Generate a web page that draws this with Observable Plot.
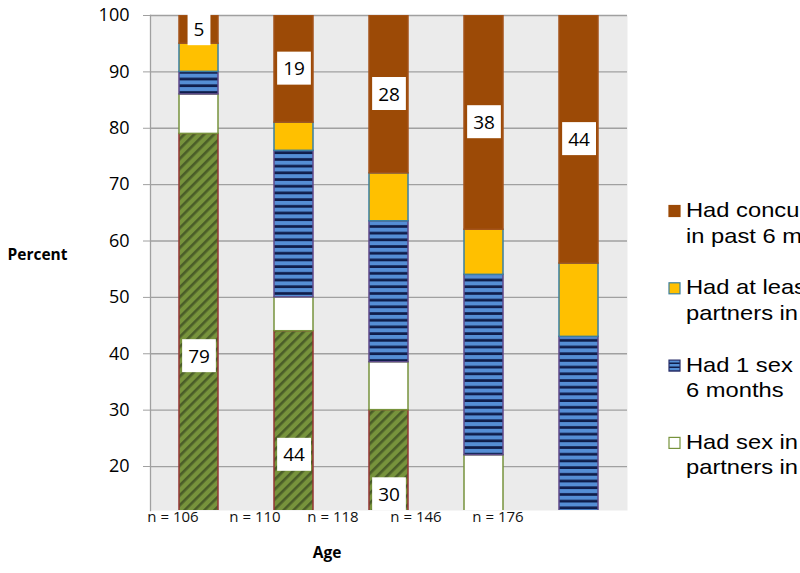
<!DOCTYPE html>
<html><head><meta charset="utf-8">
<script src="https://cdn.jsdelivr.net/npm/d3@7"></script>
<script src="https://cdn.jsdelivr.net/npm/@observablehq/plot@0.6"></script>
<style>
html,body{margin:0;padding:0;background:#fff;overflow:hidden;}
#chart{width:800px;height:573px;position:relative;overflow:hidden;}
</style></head><body><div id="chart"></div>
<script>
// ---- data ----
const groups = ["n = 106", "n = 110", "n = 118", "n = 146", "n = 176"];
const yTicks = [20, 30, 40, 50, 60, 70, 80, 90, 100];
const neverSex        = [79, 44, 30, 0, 0];      // green hatched
const noRecentPartner = [7, 6, 8.5, 22, 0];      // white
const oneSexPartner   = [4, 26, 25, 32, 43];     // blue striped
const atLeastTwo      = [5, 5, 8.5, 8, 13];      // yellow
const concurrent      = [5, 19, 28, 38, 44];     // brown
const legendLines = [
  ["Had concurrent partners", "in past 6 months"],
  ["Had at least 2 sex", "partners in past 6 months"],
  ["Had 1 sex partner in past", "6 months"],
  ["Had sex in past but no sex", "partners in past 6 months"]
];

// ---- styles ----
const series = [
  {key: "never", values: neverSex, fill: "url(#hatchGreen)", stroke: "#943634", label: true},
  {key: "none", values: noRecentPartner, fill: "#ffffff", stroke: "#77933C"},
  {key: "one", values: oneSexPartner, fill: "url(#stripeBlue)", stroke: "#5f4a8b"},
  {key: "two", values: atLeastTwo, fill: "#FFC000", stroke: "#3a7fa0"},
  {key: "conc", values: concurrent, fill: "#9C4A06", stroke: "#a4531a", label: true}
];

const rows = [];
groups.forEach((g, i) => {
  let cum = 0;
  series.forEach(s => {
    const v = s.values[i];
    rows.push({group: g, key: s.key, value: v, y1: cum, y2: cum + v});
    cum += v;
  });
});
const labelRows = rows.filter(r => r.value > 0 && series.find(s => s.key === r.key).label);

const nDx = [-26, -39, -56, -68, -81];

const plot = Plot.plot({
  width: 800,
  height: 573,
  marginLeft: 150,
  marginRight: 173,
  marginTop: 15,
  marginBottom: 63,
  style: {fontFamily: "'Open Sans', sans-serif", background: "#fff", overflow: "hidden"},
  x: {type: "band", domain: groups, paddingInner: 0.59, paddingOuter: 0.295, axis: null},
  y: {domain: [12.2, 100], axis: null},
  marks: [
    Plot.frame({fill: "#ebebeb", stroke: "none"}),
    Plot.gridY(yTicks, {stroke: "#a0a0a0", strokeOpacity: 1, strokeWidth: 1.3}),
    Plot.axisY({ticks: yTicks, tickSize: 7, tickPadding: 14, fontSize: 18, stroke: "#a0a0a0", fill: "#000", label: null}),
    Plot.frame({anchor: "left", stroke: "#a0a0a0", strokeWidth: 1.3}),
    ...series.map(s => Plot.barY(rows.filter(r => r.key === s.key && r.value > 0), {
      x: "group", y1: "y1", y2: "y2", fill: s.fill, stroke: s.stroke, strokeWidth: 1.5, clip: true
    })),
    Plot.text(labelRows, {x: "group", y: d => (d.y1 + d.y2) / 2, text: d => String(d.value), fontSize: 19, fill: "#000"}),
    ...groups.map((g, i) => Plot.text([g], {x: d => d, frameAnchor: "bottom", dy: 7, dx: nDx[i], fontSize: 15, fill: "#111", lineAnchor: "middle"})),
    Plot.text(["Age"], {frameAnchor: "bottom", dx: -62, dy: 47, fontSize: 15.5, fontWeight: "bold", fill: "#000"}),
    Plot.text(["Percent"], {frameAnchor: "left", dx: -143, dy: -8, textAnchor: "start", fontSize: 15.5, fontWeight: "bold", fill: "#000"})
  ]
});

document.getElementById("chart").appendChild(plot);

// pattern defs
const svg = d3.select(plot);
const defs = svg.insert("defs", ":first-child");
const hatch = defs.append("pattern").attr("id", "hatchGreen").attr("patternUnits", "userSpaceOnUse")
  .attr("width", 7).attr("height", 7).attr("patternTransform", "rotate(45)");
hatch.append("rect").attr("width", 7).attr("height", 7).attr("fill", "#77933C");
hatch.append("rect").attr("width", 2.6).attr("height", 7).attr("fill", "#4a5d28");
const stripe = defs.append("pattern").attr("id", "stripeBlue").attr("patternUnits", "userSpaceOnUse")
  .attr("width", 8).attr("height", 6.7);
stripe.append("rect").attr("width", 8).attr("height", 6.7).attr("fill", "#558ED5");
stripe.append("rect").attr("y", 4).attr("width", 8).attr("height", 2.7).attr("fill", "#0f1d4a");
const small = defs.append("pattern").attr("id", "stripeBlueSmall").attr("patternUnits", "userSpaceOnUse")
  .attr("width", 12).attr("height", 4);
small.append("rect").attr("width", 12).attr("height", 4).attr("fill", "#558ED5");
small.append("rect").attr("y", 2.5).attr("width", 12).attr("height", 1.5).attr("fill", "#0f1d4a");

// white boxes behind segment labels (same transform as each text)
svg.selectAll("text").each(function () {
  const t = this.textContent;
  if (!/^\d+(\.\d+)?$/.test(t)) return;
  if (this.closest('g[aria-label="y-axis tick label"]')) return;
  const b = this.getBBox();
  const cy = b.y + b.height / 2;
  const r = d3.select(this.parentNode).insert("rect", () => this)
    .attr("x", b.x - 6).attr("y", cy - 16.5)
    .attr("width", b.width + 12).attr("height", 33)
    .attr("fill", "#fff");
  const tr = this.getAttribute("transform");
  if (tr) r.attr("transform", tr);
});

// legend (right side, cut by the page edge as in the reference)
const legendStyles = [
  {fill: "#9C4A06", stroke: "#9C4A06"},
  {fill: "#FFC000", stroke: "#3a7fa0"},
  {fill: "url(#stripeBlueSmall)", stroke: "#2a2f6a"},
  {fill: "#ffffff", stroke: "#77933C"}
];
const lg = svg.append("g").attr("font-family", "'Liberation Sans', Arial, sans-serif")
  .attr("font-size", 21).attr("fill", "#000").attr("text-anchor", "start");
legendLines.forEach((lines, i) => {
  const base = 217 + i * 77.3;
  lg.append("rect").attr("x", 669).attr("y", base - 11.5).attr("width", 11).attr("height", 11)
    .attr("fill", legendStyles[i].fill).attr("stroke", legendStyles[i].stroke).attr("stroke-width", 1.2);
  lines.forEach((ln, j) => {
    lg.append("text")
      .attr("transform", `translate(686,${base + j * 25.5}) scale(1.13,1)`)
      .attr("text-anchor", "start").text(ln);
  });
});
</script>
</body></html>
